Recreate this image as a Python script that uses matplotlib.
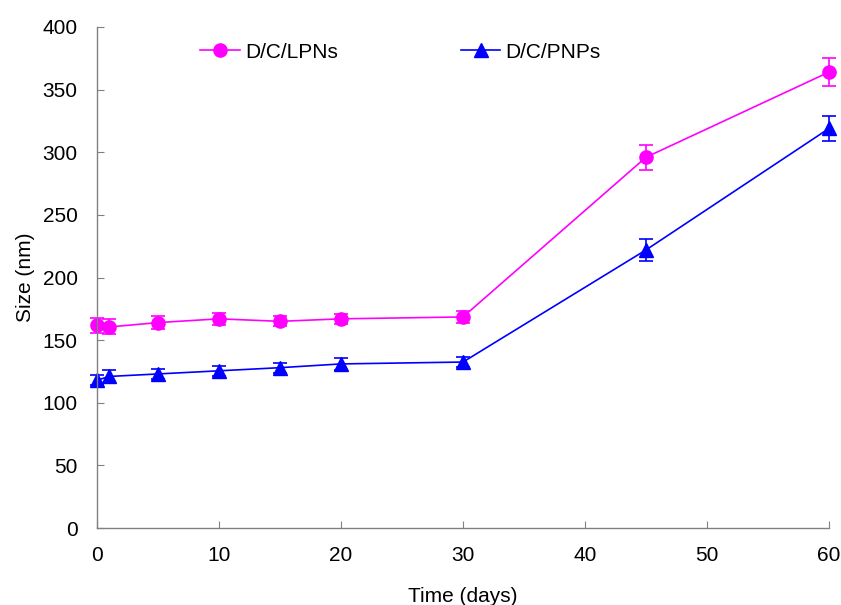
import matplotlib
matplotlib.use("Agg")
import matplotlib.pyplot as plt
from matplotlib.lines import Line2D

days = [0, 1, 5, 10, 15, 20, 30, 45, 60]
lpn_size = [162, 160.5, 164, 167, 165, 167, 168.5, 296, 364]
lpn_err = [6, 6, 5, 5, 4, 4, 5, 10, 11]
pnp_size = [118, 121, 123, 125.5, 128, 131, 132.5, 222, 319]
pnp_err = [4, 5, 4, 4, 4, 5, 4, 9, 10]
labels = ["D/C/LPNs", "D/C/PNPs"]
colors = ['#FF00FF', '#0000FF']
markers = ['o', '^']

plt.rcParams['font.family'] = ['Liberation Sans', 'DejaVu Sans']
FS = 15

fig = plt.figure(figsize=(8.41, 6.05), dpi=100)
ax = fig.add_axes([97/841, 77/605, (829-97)/841, (528-27)/605])

conts = []
for ys, es, c, m, ms in ((lpn_size, lpn_err, colors[0], markers[0], 9.5),
                         (pnp_size, pnp_err, colors[1], markers[1], 10)):
    e = ax.errorbar(days, ys, yerr=es, color=c, marker=m, markersize=ms,
                    linewidth=1.2, capsize=5, capthick=1.2, elinewidth=1.2)
    e[0].set_clip_on(False)
    for a in e[1]:
        a.set_clip_on(False)
    for a in e[2]:
        a.set_clip_on(False)
    conts.append(e)

ax.set_xlim(0, 60)
ax.set_ylim(0, 400)
ax.set_xticks(range(0, 61, 10))
ax.set_yticks(range(0, 401, 50))
for s in ('top', 'right'):
    ax.spines[s].set_visible(False)
for s in ('left', 'bottom'):
    ax.spines[s].set_color('#808080')
    ax.spines[s].set_linewidth(1.0)
ax.tick_params(direction='in', length=5, color='#808080', labelsize=FS)
ax.tick_params(axis='x', pad=13)
ax.tick_params(axis='y', pad=14)
ax.set_xlabel('Time (days)', fontsize=FS, labelpad=16)
ax.set_ylabel('Size (nm)', fontsize=FS, labelpad=5)

handles = [Line2D([], [], color=colors[i], marker=markers[i], markersize=9.5, linewidth=1.2)
           for i in range(2)]
ax.legend(handles, labels, ncol=2, frameon=False, fontsize=FS, loc='center left',
          bbox_to_anchor=(0.141, 0.950), borderpad=0, handlelength=1.9, handletextpad=0.25,
          columnspacing=5.9, numpoints=1, borderaxespad=0)

fig.savefig('out.png', dpi=100)
